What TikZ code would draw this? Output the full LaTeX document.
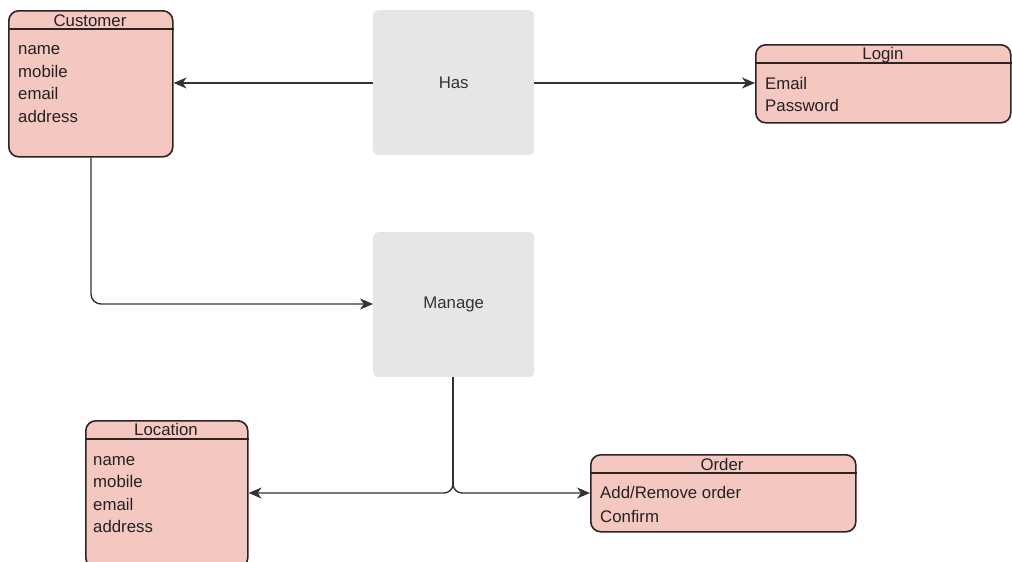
\documentclass[tikz,border=0pt]{standalone}
\usepackage{fontspec}
\setmainfont{Liberation Sans}
\usetikzlibrary{arrows.meta}
\definecolor{entfill}{HTML}{F4C7C1}
\definecolor{entline}{HTML}{2E2323}
\definecolor{relfill}{HTML}{E6E6E6}
\definecolor{wire}{HTML}{333333}
\definecolor{txt}{HTML}{222222}
\tikzset{
  entity/.style={draw=entline, fill=entfill, line width=1.6pt, rounded corners=10pt,
    anchor=north west, inner sep=0pt},
  relation/.style={fill=relfill, rounded corners=5pt, anchor=north west, inner sep=0pt},
  label/.style={font=\fontsize{16.8}{20}\selectfont, text=txt, inner sep=0pt},
  attr/.style={label, anchor=base west},
  title/.style={label, anchor=base},
  hdr/.style={draw=entline, line width=1.3pt},
  link/.style={draw=wire, line width=1.4pt, -{Stealth[length=13pt,width=11pt,inset=4pt]}},
  plain/.style={draw=wire, line width=1.4pt}
}
\begin{document}
\begin{tikzpicture}[x=1pt,y=-1pt]
\useasboundingbox (0,0) rectangle (1012,562);

% relationship boxes
\node[relation, minimum width=161pt, minimum height=145pt] (has) at (373,10) {};
\node[label, text=wire] (hastxt) at (has.center) {Has};
\node[relation, minimum width=161pt, minimum height=145pt] (manage) at (373,232) {};
\node[label, text=wire] (managetxt) at (manage.center) {Manage};

% Customer
\node[entity, minimum width=164pt, minimum height=146pt] (cust) at (8,10) {};
\draw[hdr] (cust.west |- 0,29) -- (cust.east |- 0,29);
\node[title] (custT) at (90,26) {Customer};
\node[attr] (c1) at (18,54) {name};
\node[attr] (c2) at (18,77) {mobile};
\node[attr] (c3) at (18,99) {email};
\node[attr] (c4) at (18,122) {address};

% Login
\node[entity, minimum width=255pt, minimum height=78pt] (login) at (755,44) {};
\draw[hdr] (login.west |- 0,63) -- (login.east |- 0,63);
\node[title] (loginT) at (883,59) {Login};
\node[attr] (l1) at (765,89) {Email};
\node[attr] (l2) at (765,111) {Password};

% Location (runs past the lower edge)
\node[entity, minimum width=162pt, minimum height=147pt] (loc) at (85,420) {};
\draw[hdr] (loc.west |- 0,439) -- (loc.east |- 0,439);
\node[title] (locT) at (166,435) {Location};
\node[attr] (o1) at (93,465) {name};
\node[attr] (o2) at (93,487) {mobile};
\node[attr] (o3) at (93,510) {email};
\node[attr] (o4) at (93,532) {address};

% Order
\node[entity, minimum width=265pt, minimum height=77pt] (order) at (590,454) {};
\draw[hdr] (order.west |- 0,473) -- (order.east |- 0,473);
\node[title] (orderT) at (722,470) {Order};
\node[attr] (r1) at (600,498) {Add/Remove order};
\node[attr] (r2) at (600,522) {Confirm};

% connectors
\coordinate (split) at (453,484);
\draw[link] (has.west |- 0,83) -- (cust.east |- 0,83);
\draw[link] (has.east |- 0,83) -- (login.west |- 0,83);
\draw[link, rounded corners=10pt] (91,156) -- (91,304) -- (manage.west |- 0,304);
\draw[plain] (manage.south -| split) -- (split);
\draw[link, rounded corners=9pt] (split) -- (453,493) -- (loc.east |- 0,493);
\draw[link, rounded corners=9pt] (split) -- (453,493) -- (order.west |- 0,493);
\end{tikzpicture}
\end{document}
